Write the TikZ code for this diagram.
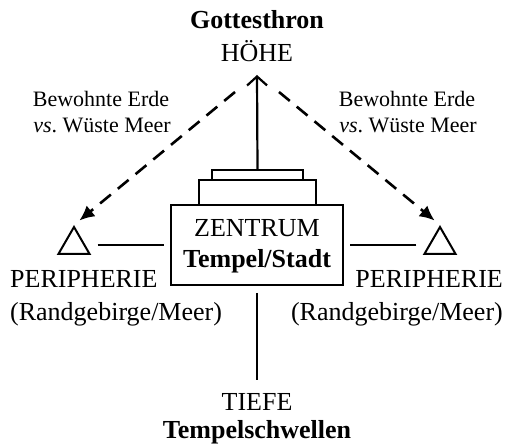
\documentclass[tikz,border=0pt]{standalone}
\usepackage{fontspec}
\setmainfont{Liberation Serif}
\usetikzlibrary{arrows.meta,shapes.geometric}
\frenchspacing
\tikzset{
  lbl/.style={inner sep=0pt, anchor=base, font=\fontsize{26}{30}\selectfont},
  lblb/.style={lbl, font=\fontsize{26}{30}\selectfont\bfseries},
  small/.style={inner sep=0pt, anchor=base, font=\fontsize{22}{25}\selectfont},
  boxshape/.style={draw, line width=2pt, inner sep=0pt},
  periph/.style={draw, line width=2pt, regular polygon, regular polygon sides=3, minimum size=36pt, inner sep=0pt},
  link/.style={line width=2.2pt},
  upline/.style={line width=2.2pt, -{Straight Barb[length=9pt, width=20pt, line width=2.2pt]}},
  dashline/.style={line width=2.6pt, dash pattern=on 14pt off 9pt, -{Latex[length=15pt, width=14pt]}}
}
\begin{document}
\begin{tikzpicture}[x=1pt, y=-1pt]
\useasboundingbox (0,0) rectangle (506,446);

% top labels
\node[lblb] (gott) at (257,29) {Gottesthron};
\node[lbl] (hoehe) at (257,62) {HÖHE};

% side labels
\node[small] (bewL) at (101,107) {Bewohnte Erde};
\node[small] (vsL) at (102,133) {\textit{vs}. Wüste Meer};
\node[small] (bewR) at (407,107) {Bewohnte Erde};
\node[small] (vsR) at (408,133) {\textit{vs}. Wüste Meer};

% stepped temple block
\node[boxshape, minimum width=91pt, minimum height=10pt] (top) at (257.5,175) {};
\node[boxshape, minimum width=117pt, minimum height=25pt] (mid) at (257.5,192.5) {};
\node[boxshape, minimum width=172pt, minimum height=80pt] (zentrum) at (257,245) {};
\node[lbl] (zt) at (257,237) {ZENTRUM};
\node[lblb] (ts) at (257,268) {Tempel/Stadt};

% periphery triangles
\node[periph] (ltri) at (74,245) {};
\node[periph] (rtri) at (440,245) {};

% periphery labels
\node[lbl, anchor=base west] (perL) at (10,288) {PERIPHERIE};
\node[lbl, anchor=base west] (randL) at (10,320) {(Randgebirge/Meer)};
\node[lbl, anchor=base east] (perR) at (503,288) {PERIPHERIE};
\node[lbl, anchor=base east] (randR) at (503,320) {(Randgebirge/Meer)};

% bottom labels
\node[lbl] (tiefe) at (257,410) {TIEFE};
\node[lblb] (schw) at (257,438) {Tempelschwellen};

% connectors
\coordinate (apex) at (257,75);
\coordinate (dl) at (235,92);
\coordinate (dr) at (279,92);
\coordinate (bottom) at (257,380);

\draw[upline] (top.north) -- (apex);
\draw[dashline, shorten >=7pt] (dl) -- (ltri.north);
\draw[dashline, shorten >=7pt] (dr) -- (rtri.north);
\draw[link, shorten <=12pt, shorten >=6pt] (ltri.east) -- (zentrum.west);
\draw[link, shorten <=12pt, shorten >=6pt] (rtri.west) -- (zentrum.east);
\draw[link, shorten <=7pt] (zentrum.south) -- (bottom);
\end{tikzpicture}
\end{document}
